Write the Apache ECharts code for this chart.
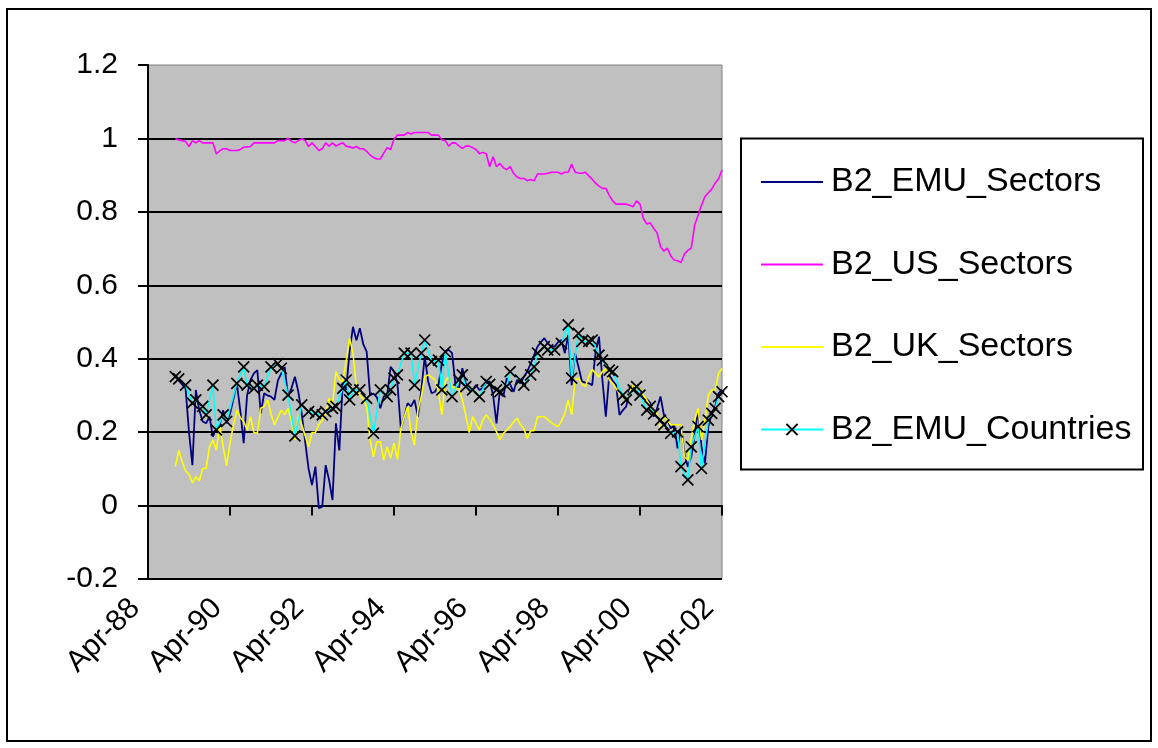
<!DOCTYPE html>
<html>
<head>
<meta charset="utf-8">
<title>B2 sectors and countries</title>
<script src="https://cdn.jsdelivr.net/npm/echarts@6/dist/echarts.min.js"></script>
<style>
  html, body { margin: 0; padding: 0; background: #fff; }
  #chart { width: 1158px; height: 748px; }
</style>
</head>
<body>
<div id="chart"></div>
<script>
// monthly axis Apr-88 .. Apr-02, labels every 2 years
var tickLabels = ["Apr-88", "Apr-90", "Apr-92", "Apr-94", "Apr-96", "Apr-98", "Apr-00", "Apr-02"];
var monthNames = ["Jan", "Feb", "Mar", "Apr", "May", "Jun", "Jul", "Aug", "Sep", "Oct", "Nov", "Dec"];
var months = [];
for (var m = 0; m <= 168; m++) {
  var k = 3 + m; // Apr-88 = month 3 of 1988
  var yy = 88 + Math.floor(k / 12);
  months.push(monthNames[k % 12] + "-" + String(yy % 100).padStart(2, "0"));
}
var firstIndex = 8; // series start at Dec-88

var emuSectors = [
  0.351,0.340,0.330,0.319,0.200,0.110,0.315,0.260,0.229,0.224,0.242,0.188,
  0.210,0.220,0.260,0.224,0.250,0.290,0.333,0.260,0.170,0.300,0.342,0.360,
  0.369,0.251,0.306,0.300,0.297,0.288,0.340,0.360,0.378,0.297,0.320,0.351,
  0.310,0.250,0.174,0.100,0.056,0.106,-0.007,-0.003,0.110,0.070,0.015,0.224,
  0.150,0.333,0.315,0.420,0.487,0.450,0.483,0.440,0.419,0.301,0.305,0.295,
  0.265,0.297,0.300,0.378,0.365,0.333,0.210,0.242,0.279,0.270,0.288,0.242,
  0.315,0.406,0.338,0.306,0.310,0.328,0.387,0.420,0.424,0.415,0.328,0.319,
  0.374,0.333,0.320,0.315,0.328,0.315,0.320,0.335,0.338,0.301,0.224,0.315,
  0.297,0.347,0.330,0.310,0.342,0.333,0.350,0.365,0.387,0.410,0.433,0.445,
  0.456,0.442,0.433,0.433,0.445,0.451,0.415,0.465,0.328,0.415,0.378,0.338,
  0.335,0.333,0.328,0.419,0.460,0.342,0.242,0.356,0.340,0.328,0.247,0.260,
  0.270,0.324,0.324,0.320,0.319,0.290,0.290,0.280,0.242,0.265,0.297,0.247,
  0.235,0.210,0.220,0.156,0.215,0.142,0.106,0.133,0.192,0.260,0.160,0.115,
  0.215,0.251,0.270,0.306,0.315
];

var usSectors = [
  1.000,0.996,0.994,0.992,0.978,0.994,0.988,0.994,0.988,0.988,0.988,0.988,
  0.958,0.966,0.972,0.972,0.967,0.967,0.967,0.970,0.976,0.977,0.978,0.988,
  0.988,0.988,0.988,0.988,0.988,0.988,0.994,0.994,0.994,1.000,0.992,0.988,
  0.994,0.999,0.994,0.978,0.988,0.978,0.967,0.972,0.988,0.979,0.988,0.979,
  0.984,0.988,0.979,0.977,0.974,0.978,0.972,0.972,0.965,0.955,0.948,0.944,
  0.944,0.960,0.975,0.970,0.998,1.009,1.009,1.009,1.016,1.012,1.016,1.016,
  1.016,1.016,1.016,1.009,1.009,1.009,0.996,0.994,0.979,0.988,0.988,0.980,
  0.973,0.979,0.979,0.975,0.970,0.958,0.962,0.958,0.923,0.950,0.923,0.932,
  0.920,0.915,0.923,0.905,0.895,0.891,0.891,0.885,0.888,0.885,0.903,0.903,
  0.903,0.905,0.908,0.908,0.908,0.903,0.908,0.908,0.930,0.908,0.906,0.905,
  0.908,0.898,0.889,0.878,0.870,0.864,0.864,0.845,0.830,0.821,0.821,0.821,
  0.821,0.818,0.814,0.830,0.821,0.782,0.767,0.770,0.755,0.743,0.705,0.693,
  0.701,0.680,0.669,0.667,0.662,0.685,0.695,0.701,0.764,0.790,0.818,0.841,
  0.852,0.862,0.878,0.890,0.914
];

var ukSectors = [
  0.106,0.150,0.120,0.095,0.085,0.062,0.079,0.067,0.101,0.101,0.160,0.179,
  0.151,0.217,0.160,0.108,0.170,0.220,0.260,0.240,0.229,0.206,0.242,0.199,
  0.197,0.265,0.270,0.288,0.250,0.220,0.240,0.260,0.247,0.265,0.229,0.179,
  0.247,0.220,0.190,0.160,0.199,0.199,0.220,0.233,0.251,0.292,0.274,0.365,
  0.342,0.338,0.392,0.456,0.415,0.324,0.300,0.290,0.270,0.179,0.133,0.174,
  0.174,0.124,0.160,0.129,0.170,0.125,0.210,0.242,0.270,0.200,0.165,0.260,
  0.297,0.351,0.356,0.350,0.342,0.310,0.247,0.338,0.351,0.324,0.319,0.319,
  0.288,0.247,0.199,0.242,0.224,0.206,0.233,0.247,0.235,0.220,0.201,0.179,
  0.197,0.205,0.215,0.228,0.238,0.220,0.210,0.183,0.204,0.204,0.242,0.242,
  0.242,0.234,0.226,0.220,0.215,0.230,0.251,0.288,0.247,0.342,0.347,0.330,
  0.324,0.351,0.371,0.360,0.351,0.365,0.374,0.342,0.333,0.319,0.305,0.297,
  0.288,0.310,0.328,0.320,0.319,0.300,0.288,0.270,0.260,0.251,0.206,0.242,
  0.233,0.220,0.220,0.220,0.220,0.133,0.124,0.183,0.233,0.265,0.179,0.233,
  0.301,0.315,0.315,0.360,0.374
];

// marked observations only; gaps are joined
var emuCountries = [
  0.351,0.345,null,0.328,null,0.279,0.288,null,0.270,0.247,null,0.328,
  0.206,null,0.247,0.229,null,null,0.333,null,0.378,0.328,null,0.319,
  0.328,null,0.324,null,0.378,null,0.387,0.374,null,0.301,null,0.190,
  null,0.274,null,0.256,null,0.251,null,0.247,0.256,null,0.265,0.270,
  null,0.319,0.342,0.288,0.315,null,0.315,null,0.292,null,0.197,null,
  0.315,null,0.297,0.315,0.347,0.356,null,0.415,null,0.415,0.328,null,
  0.415,0.451,null,0.392,null,0.396,0.315,0.419,null,0.297,null,0.342,
  0.356,0.324,null,0.315,null,0.297,null,0.338,0.330,null,0.315,0.310,
  null,0.325,0.365,null,null,0.342,0.328,null,0.356,0.378,0.415,null,
  0.433,0.424,null,0.424,null,0.442,null,0.492,0.347,null,0.469,0.447,
  null,0.447,0.451,null,0.410,0.396,null,0.369,0.365,null,null,0.301,
  0.288,null,0.315,0.324,0.301,null,0.260,0.270,0.250,null,0.233,0.220,
  null,0.197,null,0.201,0.106,null,0.070,0.160,null,0.215,0.101,null,
  0.233,0.251,0.265,0.297,0.310
];

function pad(arr) {
  var out = [];
  for (var i = 0; i < firstIndex; i++) out.push(null);
  return out.concat(arr);
}

var font = "Liberation Sans, Arial, sans-serif";
var noMark = { color: "rgba(0,0,0,0)", borderColor: "rgba(0,0,0,0)", borderWidth: 0 };
var chart = echarts.init(document.getElementById("chart"), null, { renderer: "canvas" });

chart.setOption({
  animation: false,
  backgroundColor: "#ffffff",
  textStyle: { fontFamily: font },
  grid: {
    left: 148, right: 436, top: 65, bottom: 169,
    show: true,
    backgroundColor: "#c0c0c0",
    borderColor: "#808080",
    borderWidth: 1
  },
  graphic: [
    { type: "rect", shape: { x: 7, y: 9, width: 1144, height: 732 },
      style: { fill: "none", stroke: "#000", lineWidth: 2 }, silent: true },
    { type: "rect", shape: { x: 741, y: 138.5, width: 402, height: 331 },
      style: { fill: "#fff", stroke: "#000", lineWidth: 2 }, silent: true, z: -1 }
  ],
  legend: {
    orient: "vertical",
    left: 760,
    top: 162,
    padding: 0,
    itemWidth: 62,
    itemHeight: 14,
    itemGap: 42.5,
    textStyle: { fontSize: 34, color: "#000", fontFamily: font, lineHeight: 40, padding: [0, 0, 0, 3] },
    data: [
      { name: "B2_EMU_Sectors", itemStyle: noMark },
      { name: "B2_US_Sectors", itemStyle: noMark },
      { name: "B2_UK_Sectors", itemStyle: noMark },
      { name: "B2_EMU_Countries" }
    ]
  },
  xAxis: [
    {
      type: "category",
      data: months,
      boundaryGap: false,
      axisLine: { onZero: true, lineStyle: { color: "#000", width: 2 } },
      axisTick: { show: true, interval: 23, length: 10, lineStyle: { color: "#000", width: 2 } },
      axisLabel: { show: false },
      splitLine: { show: false }
    },
    {
      type: "category",
      data: months,
      boundaryGap: false,
      position: "bottom",
      axisLine: { show: false, onZero: false },
      axisTick: { show: false },
      axisLabel: {
        interval: 23,
        rotate: 45,
        margin: 12,
        padding: [0, 18, 0, 0],
        fontSize: 30,
        color: "#000",
        fontFamily: font,
        formatter: function (v, i) { return tickLabels[i / 24] || v; }
      },
      splitLine: { show: false }
    }
  ],
  yAxis: {
    type: "value",
    min: -0.2,
    max: 1.2,
    interval: 0.2,
    axisLine: { show: true, lineStyle: { color: "#000", width: 2 } },
    axisTick: { show: true, length: 10, lineStyle: { color: "#000", width: 2 } },
    axisLabel: {
      margin: 30,
      fontSize: 30,
      color: "#000",
      fontFamily: font,
      formatter: function (v) { return String(+v.toFixed(1)); }
    },
    splitLine: { show: true, showMaxLine: false, lineStyle: { color: "#000", width: 2 } }
  },
  series: [
    {
      name: "B2_EMU_Sectors", type: "line", data: pad(emuSectors),
      symbol: "none", color: "#000080",
      lineStyle: { color: "#000080", width: 1.8 }
    },
    {
      name: "B2_US_Sectors", type: "line", data: pad(usSectors),
      symbol: "none", color: "#ff00ff",
      lineStyle: { color: "#ff00ff", width: 1.6 }
    },
    {
      name: "B2_UK_Sectors", type: "line", data: pad(ukSectors),
      symbol: "none", color: "#ffff00",
      lineStyle: { color: "#ffff00", width: 1.6 }
    },
    {
      name: "B2_EMU_Countries", type: "line", data: pad(emuCountries),
      connectNulls: true,
      symbol: "path://M0,0L10,10M10,0L0,10",
      symbolSize: 11,
      showAllSymbol: true,
      itemStyle: { color: "#000", borderColor: "#000", borderWidth: 1.7 },
      lineStyle: { color: "#00ffff", width: 1.6 }
    }
  ]
});
</script>
</body>
</html>
